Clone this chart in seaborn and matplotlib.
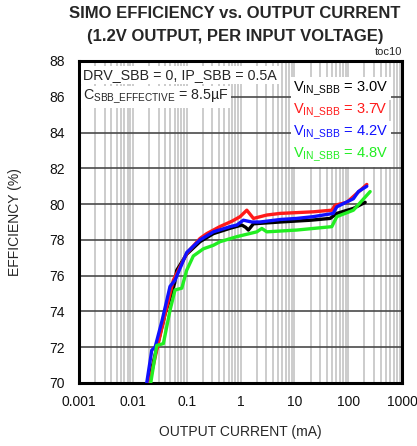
import numpy as np
import pandas as pd
import matplotlib
matplotlib.use("Agg")
import matplotlib.pyplot as plt
import seaborn as sns
from matplotlib.ticker import LogLocator, NullFormatter

# ---- data ----
vin_labels = ["3.0V", "3.7V", "4.2V", "4.8V"]
line_colors = ["#000000", "#ff1a1a", "#1010ff", "#22ee22"]

i_30 = [0.0195, 0.027, 0.04, 0.06, 0.0654, 0.1, 0.177, 0.314, 0.641, 1.057, 1.25, 1.40, 1.74, 5.45, 20, 46.3, 61.6, 125, 207]
e_30 = [70.0, 71.8, 73.9, 75.6, 76.3, 77.2, 77.9, 78.35, 78.65, 78.83, 78.7, 78.55, 78.9, 79.0, 79.1, 79.2, 79.48, 79.76, 80.1]

i_37 = [0.0203, 0.0278, 0.04, 0.0566, 0.1005, 0.177, 0.236, 0.418, 0.7, 0.984, 1.31, 1.74, 3.08, 5.45, 22.6, 49.7, 57.3, 94.5, 145, 222]
e_37 = [70.0, 71.84, 73.9, 75.75, 77.25, 78.08, 78.35, 78.75, 79.05, 79.3, 79.66, 79.2, 79.39, 79.48, 79.57, 79.66, 79.94, 80.1, 80.6, 81.1]

i_42 = [0.0181, 0.0225, 0.0259, 0.035, 0.0491, 0.0608, 0.1005, 0.177, 0.314, 0.641, 0.853, 1.13, 1.62, 2.31, 5.45, 11.1, 22.6, 52.6, 61.6, 125, 155, 222]
e_42 = [70.0, 71.84, 72.0, 73.5, 75.4, 75.75, 77.3, 78.0, 78.45, 78.74, 78.83, 79.1, 79.0, 79.0, 79.14, 79.2, 79.3, 79.48, 79.85, 80.3, 80.7, 81.0]

i_48 = [0.0215, 0.0278, 0.0369, 0.0491, 0.0608, 0.0811, 0.1, 0.133, 0.204, 0.314, 0.418, 0.853, 2.01, 2.49, 3.08, 11.1, 49.7, 61.6, 125, 256]
e_48 = [70.0, 72.1, 72.2, 74.07, 75.2, 75.3, 76.3, 77.1, 77.5, 77.7, 77.9, 78.18, 78.45, 78.64, 78.45, 78.55, 78.74, 79.3, 79.66, 80.7]

x_ticks = [0.001, 0.01, 0.1, 1, 10, 100, 1000]
x_tick_labels = ["0.001", "0.01", "0.1", "1", "10", "100", "1000"]
y_ticks = [70, 72, 74, 76, 78, 80, 82, 84, 86, 88]

frames = []
for lab, xs, ys in zip(vin_labels, [i_30, i_37, i_42, i_48], [e_30, e_37, e_42, e_48]):
    frames.append(pd.DataFrame({"current": xs, "eff": ys, "vin": lab}))
df = pd.concat(frames, ignore_index=True)

sns.set_theme(style="white")
plt.rcParams["font.family"] = ["Liberation Sans", "DejaVu Sans"]
plt.rcParams["mathtext.fontset"] = "custom"
plt.rcParams["mathtext.rm"] = "Liberation Sans"

fig = plt.figure(figsize=(4.17, 4.46), dpi=100)
ax = fig.add_axes([79 / 417, 1 - 383 / 446, (402 - 79) / 417, (383 - 61) / 446])

ax.set_xscale("log")
ax.set_xlim(0.001, 1000)
ax.set_ylim(70, 88)

# grid
ax.xaxis.set_minor_locator(LogLocator(base=10, subs=np.arange(2, 10)))
ax.xaxis.set_minor_formatter(NullFormatter())
for xv in [10.0 ** k for k in range(-3, 4)]:
    for s in range(1, 10):
        v = xv * s
        if 0.001 < v < 1000:
            ax.axvline(v, color="#c8c8c8", lw=1.3, zorder=0)
for yv in y_ticks[1:-1]:
    ax.axhline(yv, color="#4a4a4a", lw=1.2, zorder=0.5)

sns.lineplot(data=df, x="current", y="eff", hue="vin", palette=line_colors,
             hue_order=vin_labels, sort=False, estimator=None, legend=False,
             lw=2.4, ax=ax, zorder=3)

ax.set_xticks(x_ticks)
ax.set_xticklabels(x_tick_labels)
ax.set_yticks(y_ticks)
ax.tick_params(axis="both", which="both", length=0, labelsize=10, colors="#111111")
ax.tick_params(axis="x", pad=9)
ax.tick_params(axis="y", pad=10)

for sp in ax.spines.values():
    sp.set_visible(True)
    sp.set_color("black")
    sp.set_linewidth(2.2)

ax.set_xlabel("OUTPUT CURRENT (mA)", fontsize=10, labelpad=11)
ax.set_ylabel("EFFICIENCY (%)", fontsize=10, labelpad=20)

fig.text(235 / 417, 1 - 14 / 446, "SIMO EFFICIENCY vs. OUTPUT CURRENT",
         ha="center", va="center", fontsize=12, fontweight="bold")
fig.text(235 / 417, 1 - 36 / 446, "(1.2V OUTPUT, PER INPUT VOLTAGE)",
         ha="center", va="center", fontsize=12, fontweight="bold")
fig.text(402 / 417, 1 - 52 / 446, "toc10", ha="right", va="center", fontsize=8)

# condition annotation
ax.text(0.012, 0.957, "DRV_SBB = 0, IP_SBB = 0.5A",
        transform=ax.transAxes, ha="left", va="center", fontsize=10.3,
        bbox=dict(facecolor="white", edgecolor="none", pad=1.5), zorder=5)
ax.text(0.012, 0.888, "C$_{\\mathregular{SBB\\_EFFECTIVE}}$ = 8.5\u00b5F",
        transform=ax.transAxes, ha="left", va="center", fontsize=10.3,
        bbox=dict(facecolor="white", edgecolor="none", pad=1.5), zorder=5)

# legend-like text block
for k, (lab, col) in enumerate(zip(vin_labels, line_colors)):
    ax.text(0.663, 0.915 - k * 0.069, "V$_{\\mathregular{IN\\_SBB}}$ = " + lab,
            transform=ax.transAxes, ha="left", va="center", fontsize=10.5, color=col,
            bbox=dict(facecolor="white", edgecolor="none", pad=1.8), zorder=5)

fig.savefig("out.png", dpi=100)
